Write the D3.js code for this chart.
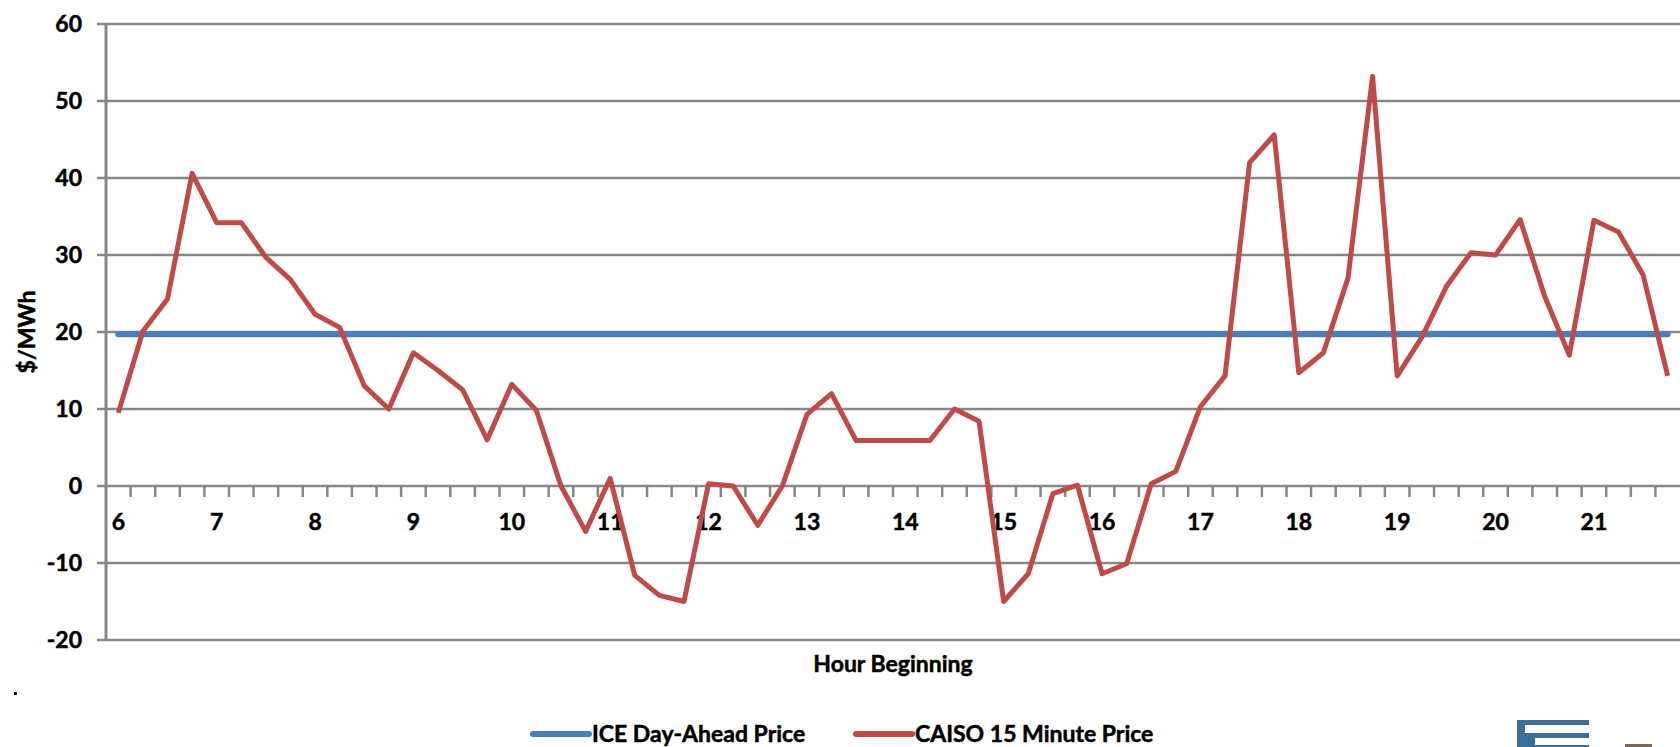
<!DOCTYPE html>
<html>
<head>
<meta charset="utf-8">
<script src="https://cdn.jsdelivr.net/npm/d3@7"></script>
<style>
  body { margin: 0; background: #fff; overflow: hidden; }
  svg text { font-family: Lato, "Open Sans", sans-serif; font-weight: bold; fill: #000; stroke: #000; stroke-width: 0.5px; }
</style>
</head>
<body>
<svg id="chart" width="1680" height="747"></svg>
<script>
// hour labels on the category axis, one category per 15 minutes
const hours = [6, 7, 8, 9, 10, 11, 12, 13, 14, 15, 16, 17, 18, 19, 20, 21];
const quarters = ["00", "15", "30", "45"];

// CAISO 15 minute price, $/MWh
const caiso15 = [
  9.5, 20.1, 24.3, 40.6, 34.2, 34.2, 29.7, 26.8,
  22.3, 20.6, 13.0, 10.0, 17.3, 15.0, 12.5, 6.0,
  13.2, 9.8, 0.0, -5.9, 1.0, -11.6, -14.2, -15.0,
  0.3, 0.0, -5.1, 0.0, 9.3, 12.0, 5.9, 5.9,
  5.9, 5.9, 10.0, 8.4, -15.0, -11.4, -1.0, 0.1,
  -11.4, -10.1, 0.3, 1.9, 10.3, 14.3, 42.0, 45.6,
  14.7, 17.3, 27.0, 53.2, 14.3, 19.3, 25.9, 30.3,
  30.0, 34.6, 24.6, 17.0, 34.5, 33.0, 27.4, 14.3
];

// ICE day-ahead price, flat for the whole day
const iceDayAhead = 19.7;

const yTicks = [-20, -10, 0, 10, 20, 30, 40, 50, 60];
const seriesNames = ["ICE Day-Ahead Price", "CAISO 15 Minute Price"];
const seriesColors = ["#4a7ebb", "#be4b48"];

const categories = hours.flatMap(h => quarters.map(q => h + ":" + q));

const plotLeft = 106, plotRight = 1680, plotTop = 24, plotBottom = 640;
const gridColor = "#878787";
const fontSize = "23px";

const svg = d3.select("#chart");

const x = d3.scaleBand()
    .domain(categories)
    .range([plotLeft, plotRight]);

const y = d3.scaleLinear()
    .domain([-20, 60])
    .range([plotBottom, plotTop]);

// horizontal gridlines (with small outside ticks to the left)
svg.append("g")
  .selectAll("line")
  .data(yTicks)
  .join("line")
    .attr("x1", plotLeft - 9)
    .attr("x2", plotRight)
    .attr("y1", d => y(d))
    .attr("y2", d => y(d))
    .attr("stroke", gridColor)
    .attr("stroke-width", 2.5);

// y axis labels
svg.append("g")
  .selectAll("text")
  .data(yTicks)
  .join("text")
    .attr("x", 82)
    .attr("y", d => y(d))
    .attr("dy", "0.36em")
    .attr("text-anchor", "end")
    .style("font-size", fontSize)
    .text(d => d);

// y axis line
svg.append("line")
    .attr("x1", plotLeft).attr("x2", plotLeft)
    .attr("y1", plotTop).attr("y2", plotBottom + 1)
    .attr("stroke", gridColor)
    .attr("stroke-width", 3);

// category axis sits on zero: ticks between categories
const xAxis = d3.axisBottom(x)
    .tickValues(categories.slice(1))
    .tickSize(11)
    .tickFormat("");

svg.append("g")
    .attr("transform", "translate(" + (-x.bandwidth() / 2) + "," + y(0) + ")")
    .call(xAxis)
    .call(g => g.select(".domain").remove())
    .call(g => g.selectAll(".tick line").attr("stroke", gridColor).attr("stroke-width", 2.5));

// hour labels under every fourth category
svg.append("g")
  .selectAll("text")
  .data(hours)
  .join("text")
    .attr("x", h => x(h + ":00") + x.bandwidth() / 2)
    .attr("y", y(0) + 36)
    .attr("dy", "0.36em")
    .attr("text-anchor", "middle")
    .style("font-size", fontSize)
    .text(h => h);

const line = d3.line()
    .x((d, i) => x(categories[i]) + x.bandwidth() / 2)
    .y(d => y(d));

// ICE day-ahead
svg.append("path")
    .datum(categories.map(() => iceDayAhead))
    .attr("d", line)
    .attr("fill", "none")
    .attr("stroke", seriesColors[0])
    .attr("stroke-width", 6)
    .attr("stroke-linecap", "round");

// CAISO 15 minute
svg.append("path")
    .datum(caiso15)
    .attr("d", line)
    .attr("fill", "none")
    .attr("stroke", seriesColors[1])
    .attr("stroke-width", 5)
    .attr("stroke-linejoin", "round");

// axis titles
svg.append("text")
    .attr("x", (plotLeft + plotRight) / 2)
    .attr("y", 664)
    .attr("dy", "0.36em")
    .attr("text-anchor", "middle")
    .style("font-size", fontSize)
    .text("Hour Beginning");

svg.append("text")
    .attr("transform", "translate(27," + ((plotTop + plotBottom) / 2) + ") rotate(-90)")
    .attr("dy", "0.36em")
    .attr("text-anchor", "middle")
    .style("font-size", fontSize)
    .text("$/MWh");

// legend
const legend = svg.append("g")
  .selectAll("g")
  .data(seriesNames)
  .join("g")
    .attr("transform", (d, i) => "translate(" + [533, 856][i] + ",734)");

legend.append("line")
    .attr("x1", 0).attr("x2", 56)
    .attr("stroke", (d, i) => seriesColors[i])
    .attr("stroke-width", 6)
    .attr("stroke-linecap", "round");

legend.append("text")
    .attr("x", 59)
    .attr("dy", "0.36em")
    .style("font-size", fontSize)
    .text(d => d);

// stray dot at lower left
svg.append("rect")
    .attr("x", 14).attr("y", 692)
    .attr("width", 3).attr("height", 3)
    .attr("fill", "#000");

// corner of the logo peeking in at the bottom right
const logo = svg.append("g");
logo.append("rect").attr("x", 1517).attr("y", 720).attr("width", 72).attr("height", 27).attr("fill", "#3d6e96");
logo.append("rect").attr("x", 1525).attr("y", 725).attr("width", 64).attr("height", 8).attr("fill", "#fff");
logo.append("rect").attr("x", 1535).attr("y", 738).attr("width", 54).attr("height", 7).attr("fill", "#fff");
logo.append("rect").attr("x", 1625).attr("y", 744).attr("width", 27).attr("height", 3).attr("fill", "#7b6a4f");
</script>
</body>
</html>
